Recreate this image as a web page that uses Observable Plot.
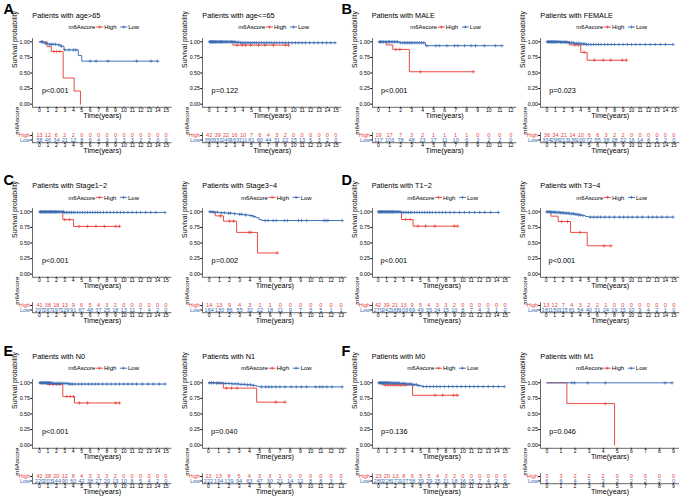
<!DOCTYPE html>
<html><head><meta charset="utf-8">
<script src="https://cdn.jsdelivr.net/npm/d3@7"></script>
<script src="https://cdn.jsdelivr.net/npm/@observablehq/plot@0.6"></script>
<style>
body{margin:0;background:#fff;}
#fig{position:relative;width:683px;height:501px;overflow:hidden;background:#fff;}
#fig svg{max-width:none;}
</style></head><body><div id="fig"></div>
<script>
// ---------------- DATA ----------------
const riskRows = ["High", "Low"];
const survTicks = [0, 0.25, 0.5, 0.75, 1];
const titles = ["Patients with age>65", "Patients with age<=65", "Patients with MALE", "Patients with FEMALE",
  "Patients with Stage1\u22122", "Patients with Stage3\u22124", "Patients with T1\u22122", "Patients with T3\u22124",
  "Patients with N0", "Patients with N1", "Patients with M0", "Patients with M1"];
const pvals = ["p<0.001", "p=0.122", "p<0.001", "p=0.023", "p<0.001", "p=0.002", "p<0.001", "p<0.001",
  "p<0.001", "p=0.040", "p=0.136", "p=0.046"];
const letters = ["A", "B", "C", "D", "E", "F"];

// A: age>65
const ageGt65High = [[0,1],[0.9,0.925],[1.4,0.845],[2.8,0.42],[4.1,0.21],[4.85,0]];
const ageGt65HighCens = [1.7,2.05,2.4];
const ageGt65Low = [[0,1],[0.5,0.975],[1.0,0.96],[2.1,0.95],[2.5,0.93],[2.9,0.87],[4.6,0.78],[5.0,0.69],[14.0,0.69]];
const ageGt65LowCens = [0.2,0.35,0.7,0.85,1.2,1.4,1.6,1.9,2.3,2.6,3.0,3.5,4.0,4.3,6.0,6.7,8.1,11.5,13.2,14.0];
const ageGt65RiskHigh = [13,12,6,2,2,0,0,0,0,0,0,0,0,0,0,0];
const ageGt65RiskLow = [58,46,34,21,12,8,6,4,3,3,3,3,2,2,0,0];
// A: age<=65
const ageLe65High = [[0,1],[2.8,0.947],[9.4,0.947]];
const ageLe65HighCens = [3.3,3.9,4.3,4.9,5.85,6.6,7.6,9.0,9.4];
const ageLe65Low = [[0,1],[3.0,0.993],[3.7,0.985],[14.9,0.985]];
const ageLe65LowCens = [0.05,0.12,0.2,0.28,0.35,0.42,0.5,0.58,0.66,0.75,0.85,0.95,1.05,1.15,1.25,1.35,1.45,1.55,1.65,1.78,1.9,2.05,2.2,2.35,2.5,2.65,2.8,2.95,3.1,3.3,3.5,3.7,3.9,4.1,4.35,4.6,4.85,5.1,5.35,5.6,5.9,6.2,6.5,6.8,7.1,7.4,7.7,8.0,8.35,8.7,9.05,9.4,9.8,10.2,10.6,11.0,11.4,11.9,12.4,12.9,13.4,13.9,14.4,14.9];
const ageLe65RiskHigh = [42,39,22,16,10,7,6,4,3,2,0,0,0,0,0,0];
const ageLe65RiskLow = [390,331,249,163,111,81,60,44,31,22,15,13,6,3,2,0];
// B: MALE
const maleHigh = [[0,1],[0.7,0.95],[1.3,0.878],[2.8,0.52],[8.6,0.52]];
const maleHighCens = [1.58,1.94,3.8,8.6];
const maleLow = [[0,1],[1.9,0.985],[4.25,0.938],[11.2,0.938]];
const maleLowCens = [0.1,0.2,0.3,0.45,0.6,0.75,0.9,1.0,1.15,1.3,1.45,1.6,1.75,2.0,2.2,2.35,2.5,2.65,2.8,2.95,3.1,3.3,3.5,3.7,3.9,4.1,4.4,5.2,5.5,6.2,6.9,7.2,7.8,8.4,8.8,9.6,10.6,11.2];
const maleRiskHigh = [19,17,7,3,2,1,1,1,1,0,0,0,0];
const maleRiskLow = [117,103,78,48,23,17,11,10,6,3,2,2,0];
// B: FEMALE
const femaleHigh = [[0,1],[2.7,0.95],[4.0,0.83],[4.75,0.705],[9.4,0.705]];
const femaleHighCens = [3.3,3.7,4.4,5.6,6.65,7.55,8.9,9.4];
const femaleLow = [[0,1],[1.5,0.995],[2.5,0.985],[3.2,0.975],[4.0,0.965],[4.6,0.957],[14.9,0.957]];
const femaleLowCens = [0.05,0.15,0.25,0.35,0.45,0.55,0.65,0.75,0.85,0.95,1.05,1.15,1.3,1.45,1.6,1.75,1.9,2.05,2.2,2.35,2.5,2.7,2.9,3.1,3.3,3.5,3.7,3.9,4.1,4.3,4.5,4.7,4.9,5.2,5.5,5.8,6.1,6.4,6.8,7.2,7.6,8.0,8.5,9.0,9.5,10.0,10.5,11.0,11.6,12.2,12.8,13.4,14.0,14.9];
const femaleRiskHigh = [36,34,21,14,10,6,6,3,2,2,0,0,0,0,0,0];
const femaleRiskLow = [334,296,213,136,100,72,55,38,28,22,16,14,8,5,2,0];
// C: Stage1-2
const stage12High = [[0,1],[2.77,0.875],[4.03,0.766],[9.5,0.766]];
const stage12HighCens = [3.0,3.55,4.7,5.7,6.7,7.7,9.05,9.5];
const stage12Low = [[0,1],[2.9,0.99],[14.9,0.99]];
const stage12LowCens = [0.05,0.12,0.2,0.3,0.4,0.5,0.6,0.7,0.8,0.9,1.0,1.1,1.2,1.3,1.4,1.5,1.6,1.7,1.8,1.9,2.0,2.1,2.25,2.4,2.55,2.7,2.85,3.0,3.2,3.4,3.6,3.8,4.0,4.2,4.5,4.8,5.1,5.4,5.7,6.0,6.3,6.6,6.9,7.2,7.6,8.0,8.4,8.8,9.2,9.6,10.0,10.5,11.0,11.5,12.0,12.6,13.2,13.8,14.9];
const stage12RiskHigh = [41,38,18,13,9,6,5,4,3,2,0,0,0,0,0,0];
const stage12RiskLow = [297,267,197,129,91,67,48,37,25,18,13,11,7,4,2,0];
// C: Stage3-4
const stage34High = [[0,1],[0.6,0.935],[1.4,0.85],[2.7,0.67],[4.75,0.34],[6.7,0.34]];
const stage34HighCens = [1.1,2.0,2.4,3.9,4.1,6.7];
const stage34Low = [[0,1],[0.4,0.993],[1.0,0.985],[1.7,0.978],[2.3,0.97],[2.8,0.96],[3.4,0.95],[3.9,0.94],[4.3,0.925],[4.6,0.905],[4.9,0.875],[5.2,0.86],[13.1,0.86]];
const stage34LowCens = [0.1,0.3,0.5,0.8,1.2,1.5,1.9,2.1,2.5,3.0,3.2,3.6,4.1,4.4,5.5,5.8,6.3,6.6,7.4,7.7,8.8,9.1,9.6,11.3,11.5,11.7,13.1];
const stage34RiskHigh = [14,13,9,4,3,1,1,0,0,0,0,0,0,0];
const stage34RiskLow = [164,130,86,55,32,22,18,11,9,7,5,5,1,1];
// D: T1-2
const t12High = [[0,1],[2.76,0.877],[4.13,0.77],[9.4,0.77]];
const t12HighCens = [3.27,3.78,4.7,5.6,6.7,9.0,9.4];
const t12Low = [[0,1],[2.7,0.99],[14.2,0.99]];
const t12LowCens = [0.05,0.12,0.2,0.3,0.4,0.5,0.6,0.7,0.8,0.9,1.0,1.1,1.2,1.3,1.4,1.5,1.6,1.7,1.8,1.9,2.0,2.15,2.3,2.45,2.6,2.8,3.0,3.2,3.4,3.6,3.8,4.0,4.3,4.6,4.9,5.2,5.5,5.8,6.1,6.4,6.8,7.2,7.6,8.0,8.5,9.0,9.6,10.2,10.8,11.4,12.0,12.6,13.3,14.2];
const t12RiskHigh = [42,39,21,13,9,5,4,3,3,2,0,0,0,0,0,0];
const t12RiskLow = [270,242,168,103,69,49,35,24,15,10,8,7,4,3,1,0];
// D: T3-4
const t34High = [[0,1],[0.55,0.93],[1.4,0.845],[2.86,0.67],[4.82,0.455],[7.6,0.455]];
const t34HighCens = [1.8,2.5,3.96,6.8,7.6];
const t34Low = [[0,1],[0.5,0.995],[1.0,0.99],[1.6,0.985],[2.2,0.978],[2.8,0.97],[3.3,0.96],[3.8,0.95],[4.2,0.94],[4.6,0.925],[5.0,0.915],[14.9,0.915]];
const t34LowCens = [0.1,0.2,0.35,0.5,0.65,0.8,0.95,1.1,1.25,1.4,1.55,1.7,1.85,2.0,2.2,2.4,2.6,2.8,3.0,3.2,3.4,3.6,3.8,4.0,4.3,5.2,5.6,6.0,6.4,6.9,7.4,8.0,8.6,9.1,9.6,10.1,10.7,11.3,12.0,12.5,13.0,13.6,14.2,14.9];
const t34RiskHigh = [13,12,7,4,3,2,2,1,0,0,0,0,0,0,0,0];
const t34RiskLow = [181,150,115,81,54,40,31,24,19,15,10,9,4,2,1,0];
// E: N0
const n0High = [[0,1],[0.85,0.976],[2.77,0.78],[4.15,0.677],[9.5,0.677]];
const n0HighCens = [1.2,1.6,2.0,2.4,3.24,3.64,4.03,4.74,5.7,9.05,9.5];
const n0Low = [[0,1],[1.5,0.99],[3.5,0.98],[14.9,0.98]];
const n0LowCens = [0.05,0.15,0.25,0.35,0.45,0.55,0.65,0.75,0.85,0.95,1.05,1.15,1.25,1.35,1.5,1.65,1.8,1.95,2.1,2.25,2.4,2.55,2.7,2.9,3.1,3.3,3.5,3.7,3.9,4.2,4.6,5.0,5.4,5.8,6.2,6.6,7.0,7.5,8.0,8.5,9.0,9.5,10.0,10.5,11.0,11.5,12.2,12.9,13.5,14.2,14.9];
const n0RiskHigh = [42,38,20,12,8,4,3,3,3,2,0,0,0,0,0,0];
const n0RiskLow = [220,203,144,90,60,42,38,27,20,13,10,8,5,4,2,0];
// E: N1
const n1High = [[0,1],[1.45,0.915],[4.72,0.69],[7.5,0.69]];
const n1HighCens = [1.77,2.25,2.8,6.6,7.5];
const n1Low = [[0,1],[0.7,0.995],[1.5,0.99],[2.3,0.983],[3.0,0.975],[3.7,0.968],[4.3,0.958],[4.7,0.945],[5.0,0.935],[13.1,0.935]];
const n1LowCens = [0.1,0.3,0.5,0.8,1.0,1.2,1.5,1.7,2.0,2.3,2.6,2.9,3.2,3.5,3.8,4.1,4.4,5.2,5.6,5.9,6.2,6.6,7.0,7.5,8.1,8.6,9.1,9.6,10.5,10.9,11.2,11.6,12.1,13.1];
const n1RiskHigh = [13,13,8,5,4,3,3,1,0,0,0,0,0,0];
const n1RiskLow = [222,194,139,94,63,47,30,21,14,12,8,8,3,1];
// F: M0
const m0High = [[0,1],[0.45,0.965],[4.03,0.8],[9.5,0.8]];
const m0HighCens = [0.8,1.1,1.4,1.7,2.0,2.3,2.6,2.9,3.2,6.7,7.6,8.9,9.3];
const m0Low = [[0,1],[1.5,0.995],[2.5,0.99],[3.3,0.98],[4.0,0.97],[4.6,0.955],[5.1,0.94],[14.9,0.94]];
const m0LowCens = [0.05,0.15,0.25,0.35,0.45,0.55,0.65,0.75,0.85,0.95,1.05,1.15,1.3,1.45,1.6,1.75,1.9,2.05,2.2,2.35,2.5,2.7,2.9,3.1,3.3,3.5,3.7,3.9,4.1,4.3,4.5,4.8,5.3,5.7,6.1,6.5,6.9,7.3,7.8,8.3,8.8,9.3,9.8,10.3,10.8,11.3,11.8,12.4,13.0,13.6,14.2,14.9];
const m0RiskHigh = [23,20,13,8,6,5,5,4,3,2,0,0,0,0,0,0];
const m0RiskLow = [280,228,172,107,58,39,29,25,21,18,16,15,7,4,2,0];
// F: M1
const m1High = [[0,1],[1.42,0.667],[4.81,0]];
const m1HighCens = [4.15];
const m1Low = [[0,1],[8.9,1]];
const m1LowCens = [1.78,1.97,2.9,4.15,8.4,8.9];
const m1RiskHigh = [3,3,2,2,2,0,0,0,0,0];
const m1RiskLow = [6,6,4,3,3,2,2,2,2,0];

const panels = [
  [ageGt65High, ageGt65HighCens, ageGt65Low, ageGt65LowCens, ageGt65RiskHigh, ageGt65RiskLow],
  [ageLe65High, ageLe65HighCens, ageLe65Low, ageLe65LowCens, ageLe65RiskHigh, ageLe65RiskLow],
  [maleHigh, maleHighCens, maleLow, maleLowCens, maleRiskHigh, maleRiskLow],
  [femaleHigh, femaleHighCens, femaleLow, femaleLowCens, femaleRiskHigh, femaleRiskLow],
  [stage12High, stage12HighCens, stage12Low, stage12LowCens, stage12RiskHigh, stage12RiskLow],
  [stage34High, stage34HighCens, stage34Low, stage34LowCens, stage34RiskHigh, stage34RiskLow],
  [t12High, t12HighCens, t12Low, t12LowCens, t12RiskHigh, t12RiskLow],
  [t34High, t34HighCens, t34Low, t34LowCens, t34RiskHigh, t34RiskLow],
  [n0High, n0HighCens, n0Low, n0LowCens, n0RiskHigh, n0RiskLow],
  [n1High, n1HighCens, n1Low, n1LowCens, n1RiskHigh, n1RiskLow],
  [m0High, m0HighCens, m0Low, m0LowCens, m0RiskHigh, m0RiskLow],
  [m1High, m1HighCens, m1Low, m1LowCens, m1RiskHigh, m1RiskLow]
];

// ---------------- LAYOUT ----------------
const rowTops = [0, 170.4, 341.2];
const geom = [ // [y-axis x, x of tick 0, x of last tick] in page px
  [32.3,39.3,166.0],[202.3,209.0,335.7],[371.7,377.7,510.0],[540.3,546.7,673.7],
  [32.3,39.3,165.7],[202.3,209.0,341.0],[371.7,377.3,504.3],[540.3,546.0,673.7],
  [32.3,39.3,165.7],[202.3,208.3,341.0],[371.7,377.7,504.3],[540.3,546.7,673.3]];
const letterPos = [[3.5,14.2],[341.5,14.2],[3.5,184.6],[341.5,184.6],[3.5,355.6],[341.5,355.6]];

const RED = "#E8413A", BLUE = "#3A6BB4";
const FONT = "'Liberation Sans', Arial, Helvetica, sans-serif";
const fig = document.getElementById("fig");

function survAt(steps, t) { let s = steps[0][1]; for (const [tt, ss] of steps) if (tt <= t + 1e-9) s = ss; return s; }

const overlayItems = [];

panels.forEach((pd, i) => {
  const [high, highCens, low, lowCens, riskHigh, riskLow] = pd;
  const [axisX, tick0, tickN] = geom[i];
  const rowTop = rowTops[Math.floor(i / 4)];
  const N = riskHigh.length - 1;
  const ppy = (tickN - tick0) / N;
  const xmin = -(tick0 - axisX) / ppy;
  const rightPx = tickN + 6;
  const xmax = N + 6 / ppy;
  const ML = 34, MR = 4;
  const W = ML + (rightPx - axisX) + MR;
  const left = axisX - ML;
  const ticksX = riskHigh.map((_, k) => k);

  const hiLine = high.map(([t, s]) => ({t, s}));
  const loLine = low.map(([t, s]) => ({t, s}));
  const hiC = highCens.map(t => ({t, s: survAt(high, t)}));
  const loC = lowCens.map(t => ({t, s: survAt(low, t)}));

  const km = Plot.plot({
    width: W, height: 91.8, marginLeft: ML, marginRight: MR, marginTop: 8.2, marginBottom: 15,
    x: {domain: [xmin, xmax]}, y: {domain: [-0.05, 1.05]},
    style: {fontFamily: FONT, background: "transparent", overflow: "visible", color: "black"},
    marks: [
      Plot.ruleX([xmin], {stroke: "black", strokeWidth: 0.6}),
      Plot.ruleY([-0.05], {stroke: "black", strokeWidth: 0.6}),
      Plot.axisX({ticks: ticksX, tickSize: 1.0, tickPadding: 0, fontSize: 5.1, label: null, stroke: "black", fill: "black"}),
      Plot.axisY({ticks: survTicks, tickFormat: d3.format(".2f"), tickSize: 1.8, tickPadding: 0.8, fontSize: 5.3, label: null, stroke: "black", fill: "black"}),
      Plot.line(hiLine, {x: "t", y: "s", curve: "step-after", stroke: RED, strokeWidth: 0.95}),
      Plot.line(loLine, {x: "t", y: "s", curve: "step-after", stroke: BLUE, strokeWidth: 0.95}),
      Plot.dot(hiC, {x: "t", y: "s", symbol: "plus", r: 1.2, stroke: RED, strokeWidth: 0.7}),
      Plot.dot(loC, {x: "t", y: "s", symbol: "plus", r: 1.2, stroke: BLUE, strokeWidth: 0.7}),
      Plot.text([pvals[i]], {x: () => 0, y: () => 0.215, text: d => d, dx: 2.4, textAnchor: "start", fontSize: 7.3, fill: "black"}),
      Plot.text(["Time(years)"], {frameAnchor: "bottom", text: d => d, dy: 10.5, fontSize: 7.2, fill: "black"}),
      Plot.text(["Survival probability"], {frameAnchor: "left", text: d => d, dx: -17.3, dy: -5, rotate: -90, fontSize: 6.8, fill: "black"})
    ]
  });
  km.style.position = "absolute"; km.style.left = left + "px"; km.style.top = (rowTop + 30) + "px";
  fig.appendChild(km);

  const rHigh = riskHigh.map((n, t) => ({t, r: 0, n}));
  const rLow = riskLow.map((n, t) => ({t, r: 1, n}));
  const rt = Plot.plot({
    width: W, height: 28, marginLeft: ML, marginRight: MR, marginTop: 4.3, marginBottom: 13.8,
    x: {domain: [xmin, xmax]}, y: {domain: [1.6, -0.6]},
    style: {fontFamily: FONT, background: "transparent", overflow: "visible", color: "black"},
    marks: [
      Plot.ruleX([xmin], {stroke: "black", strokeWidth: 0.6}),
      Plot.ruleY([1.6], {stroke: "black", strokeWidth: 0.6}),
      Plot.axisX({ticks: ticksX, tickSize: 0.9, tickPadding: 0, fontSize: 5.1, label: null, stroke: "black", fill: "black"}),
      Plot.axisY({ticks: [0, 1], tickSize: 1.8, tickFormat: () => "", label: null, stroke: "black"}),
      Plot.text([riskRows[0]], {y: () => 0, text: d => d, frameAnchor: "left", dx: -2.6, textAnchor: "end", fill: RED, fontSize: 5.4}),
      Plot.text([riskRows[1]], {y: () => 1, text: d => d, frameAnchor: "left", dx: -2.6, textAnchor: "end", fill: BLUE, fontSize: 5.4}),
      Plot.text(rHigh, {x: "t", y: "r", text: d => String(d.n), fill: RED, fontSize: 5.6}),
      Plot.text(rLow, {x: "t", y: "r", text: d => String(d.n), fill: BLUE, fontSize: 5.6}),
      Plot.text(["Time(years)"], {frameAnchor: "bottom", text: d => d, dy: 10.3, fontSize: 7.2, fill: "black"}),
      Plot.text(["m6Ascore"], {frameAnchor: "left", text: d => d, dx: -15.3, dy: -3, rotate: -90, fontSize: 6.2, fill: "black"})
    ]
  });
  rt.style.position = "absolute"; rt.style.left = left + "px"; rt.style.top = (rowTop + 128) + "px";
  fig.appendChild(rt);

  overlayItems.push({title: titles[i], x: axisX, cx: (axisX + rightPx) / 2, rowTop});
});

// ---------------- OVERLAY TEXT (letters, titles, legends) ----------------
const ov = d3.select(fig).append("svg")
  .attr("width", 683).attr("height", 501)
  .style("position", "absolute").style("left", "0px").style("top", "0px")
  .style("font-family", FONT);

letters.forEach((L, k) => ov.append("text").attr("x", letterPos[k][0]).attr("y", letterPos[k][1])
  .attr("font-size", 14.5).attr("font-weight", "bold").text(L));

overlayItems.forEach(o => {
  ov.append("text").attr("x", o.x).attr("y", o.rowTop + 17.5).attr("font-size", 7.3).text(o.title);
  const y = o.rowTop + 27, cx = o.cx;
  const g = ov.append("g").attr("font-size", 6);
  g.append("text").attr("x", cx - 33.7).attr("y", y + 2.1).text("m6Ascore");
  [[RED, -6, riskRows[0], 2], [BLUE, 18, riskRows[1], 26]].forEach(([c, gx, lab, tx]) => {
    g.append("line").attr("x1", cx + gx).attr("x2", cx + gx + 7).attr("y1", y).attr("y2", y).attr("stroke", c).attr("stroke-width", 0.9);
    g.append("path").attr("d", `M${cx + gx + 3.5 - 1.6},${y}h3.2M${cx + gx + 3.5},${y - 1.6}v3.2`).attr("stroke", c).attr("stroke-width", 0.7);
    g.append("text").attr("x", cx + tx).attr("y", y + 2.1).text(lab);
  });
});
</script></body></html>
